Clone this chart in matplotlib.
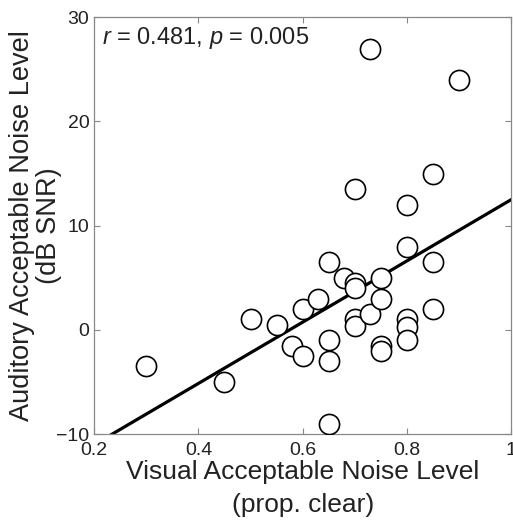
import matplotlib
matplotlib.use("Agg")
import matplotlib.pyplot as plt
import numpy as np

plt.rcParams['font.family'] = ['Liberation Sans', 'DejaVu Sans']
plt.rcParams['mathtext.fontset'] = 'custom'
plt.rcParams['mathtext.it'] = 'Liberation Sans:italic'
plt.rcParams['mathtext.rm'] = 'Liberation Sans'

visual_anl = [0.30, 0.45, 0.50, 0.55, 0.58, 0.60, 0.60, 0.63, 0.65, 0.65, 0.65, 0.65,
              0.68, 0.70, 0.70, 0.70, 0.70, 0.73, 0.75, 0.75, 0.75, 0.75,
              0.80, 0.80, 0.80, 0.80, 0.85, 0.85, 0.73, 0.90, 0.70, 0.80, 0.85]
auditory_anl = [-3.5, -5.0, 1.0, 0.5, -1.5, -2.5, 2.0, 3.0, 6.5, -1.0, -3.0, -9.0,
                5.0, 4.5, 4.0, 1.0, 0.4, 1.5, 5.0, 3.0, -1.5, -2.0,
                8.0, 1.0, 0.3, -1.0, 6.5, 2.0, 27.0, 24.0, 13.5, 12.0, 15.0]
fit_slope = 29.4
fit_intercept = -16.9
stats_text = r"$r$ = 0.481, $p$ = 0.005"

fig = plt.figure(figsize=(5.13, 5.23), dpi=100)
ax = fig.add_axes([0.1835, 0.170, 0.813, 0.797])

xs = np.array([0.2, 1.0])
ax.plot(xs, fit_slope * xs + fit_intercept, color='black', lw=2.3, zorder=2)
ax.plot(visual_anl, auditory_anl, 'o', ms=14.5, mfc='white', mec='black', mew=1.2, zorder=3)

ax.set_xlim(0.2, 1.0)
ax.set_ylim(-10, 30)
ax.set_xticks([0.2, 0.4, 0.6, 0.8, 1.0])
ax.set_xticklabels(['0.2', '0.4', '0.6', '0.8', '1'])
ax.set_yticks([-10, 0, 10, 20, 30])
ax.tick_params(direction='in', top=True, right=True, length=4, width=0.8,
               color='#888888', labelsize=14, labelcolor='#222222')
ax.tick_params(axis='x', pad=5.5)
ax.tick_params(axis='y', pad=3.5)
for s in ax.spines.values():
    s.set_color('#888888')
    s.set_linewidth(0.9)

ax.set_xlabel("Visual Acceptable Noise Level\n(prop. clear)", fontsize=19,
              color='#222222', labelpad=1, linespacing=1.45)
ax.set_ylabel("Auditory Acceptable Noise Level\n(dB SNR)", fontsize=19.6,
              color='#222222', labelpad=-4, linespacing=1.05)
ax.text(0.02, 0.982, stats_text, transform=ax.transAxes, fontsize=17,
        va='top', ha='left', color='#222222')

fig.savefig("out.png", dpi=100)
